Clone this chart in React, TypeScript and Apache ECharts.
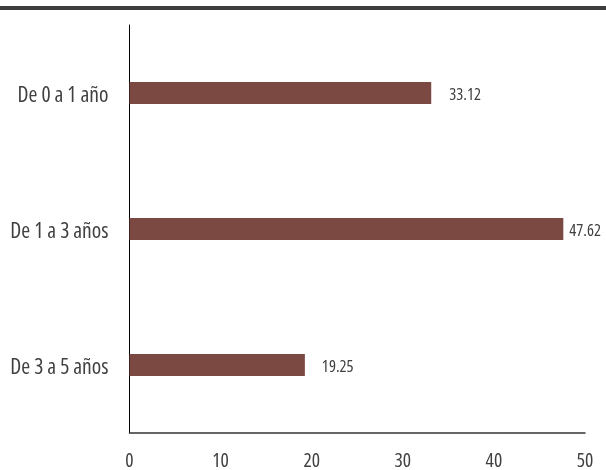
import React, { useEffect, useRef } from "react";
import * as echarts from "echarts";

const categories = ["De 0 a 1 año", "De 1 a 3 años", "De 3 a 5 años"];
const values = [33.12, 47.62, 19.25];
const labelGaps = [18, 6, 17];
const xTicks = [0, 10, 20, 30, 40, 50];

const FONT = "'Open Sans', sans-serif";

export default function App() {
  const ref = useRef<HTMLDivElement>(null);
  useEffect(() => {
    if (!ref.current) return;
    const chart = echarts.init(ref.current, undefined, { renderer: "svg" });
    chart.setOption({
      animation: false,
      graphic: [
        { type: "rect", shape: { x: 0, y: 6, width: 606, height: 4 }, style: { fill: "#3d3d3d" } },
      ],
      grid: { left: 129.5, right: 21, top: 25, bottom: 37, containLabel: false, outerBoundsMode: "none" },
      xAxis: {
        type: "value",
        min: xTicks[0],
        max: xTicks[xTicks.length - 1],
        interval: 10,
        splitLine: { show: false },
        axisTick: { show: false },
        axisLine: { show: true, lineStyle: { color: "#333", width: 1.5 } },
        axisLabel: { color: "#404040", fontSize: 19.5, fontFamily: FONT, margin: 17, lineHeight: 18 },
      },
      yAxis: {
        type: "category",
        inverse: true,
        data: categories,
        axisTick: { show: false },
        axisLine: { show: true, lineStyle: { color: "#000", width: 1 } },
        axisLabel: { color: "#404040", fontSize: 21.5, fontFamily: FONT, margin: 21 },
      },
      series: [
        {
          type: "bar",
          barWidth: 22,
          itemStyle: { color: "#7c4942" },
          data: values.map((v, i) => ({
            value: v,
            label: {
              show: true,
              position: "right",
              distance: labelGaps[i],
              color: "#404040",
              fontSize: 16.5,
              fontFamily: FONT,
              formatter: (p: any) => p.value.toFixed(2),
            },
          })),
        },
      ],
    });
    return () => chart.dispose();
  }, []);
  return (
    <>
      <style>{"svg text { font-stretch: 75% !important; }"}</style>
      <div ref={ref} style={{ position: "fixed", left: 0, top: 0, width: 606, height: 470 }} />
    </>
  );
}
